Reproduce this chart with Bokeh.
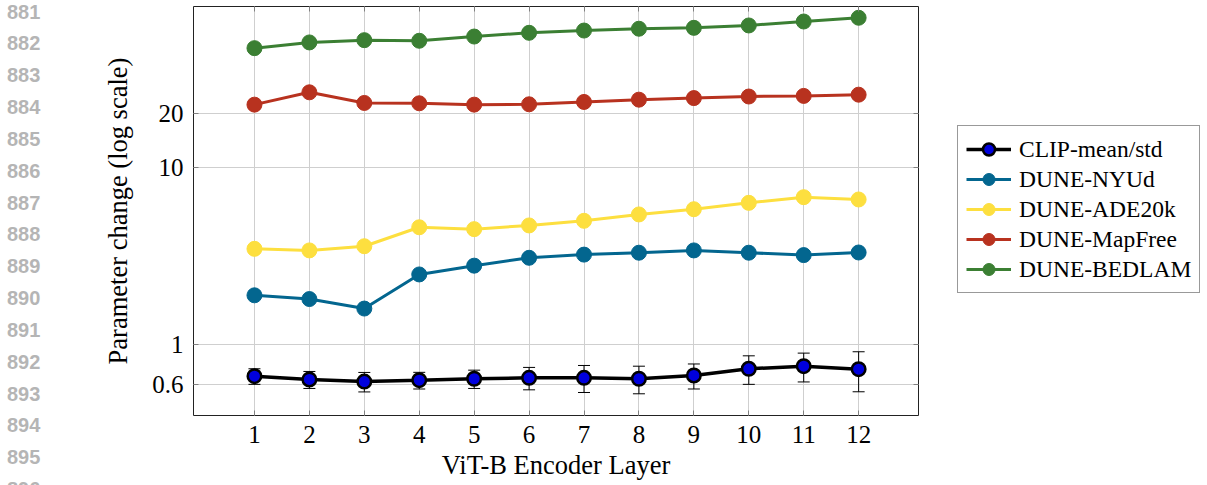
from bokeh.plotting import figure
from bokeh.layouts import row
from bokeh.models import (ColumnDataSource, FixedTicker, Range1d, LinearAxis, LogAxis,
                          Legend, LegendItem, Whisker, TeeHead, Div)
from bokeh.embed import file_html
from bokeh.resources import INLINE

# ---------------- data ----------------
layers = [1, 2, 3, 4, 5, 6, 7, 8, 9, 10, 11, 12]
clip_mean = [0.666, 0.638, 0.621, 0.632, 0.644, 0.652, 0.652, 0.644, 0.672, 0.733, 0.758, 0.729]
clip_std = [0.067, 0.070, 0.078, 0.068, 0.076, 0.094, 0.113, 0.114, 0.108, 0.134, 0.140, 0.185]
dune_nyud = [1.90, 1.81, 1.60, 2.49, 2.79, 3.09, 3.22, 3.30, 3.40, 3.30, 3.20, 3.31]
dune_ade20k = [3.47, 3.40, 3.59, 4.59, 4.48, 4.70, 4.99, 5.42, 5.80, 6.30, 6.78, 6.58]
dune_mapfree = [22.5, 26.4, 23.0, 22.9, 22.5, 22.6, 23.3, 24.0, 24.5, 25.0, 25.2, 25.6]
dune_bedlam = [46.8, 50.4, 51.9, 51.5, 54.4, 57.1, 58.8, 60.2, 60.9, 62.8, 66.1, 69.4]

series_names = ["CLIP-mean/std", "DUNE-NYUd", "DUNE-ADE20k", "DUNE-MapFree", "DUNE-BEDLAM"]
x_tick_values = layers
y_tick_values = [0.6, 1, 10, 20]
y_tick_labels = ["0.6", "1", "10", "20"]
x_axis_title = "ViT-B Encoder Layer"
y_axis_title = "Parameter change (log scale)"
line_numbers = [str(n) for n in range(881, 897)]

# ---------------- styling ----------------
SERIF = "Liberation Serif"
colors = {
    "CLIP-mean/std": "black",
    "DUNE-NYUd": "#03668f",
    "DUNE-ADE20k": "#fddf3f",
    "DUNE-MapFree": "#b8321f",
    "DUNE-BEDLAM": "#3b7f33",
}
CLIP_FILL = "#0000dd"
H = 485
NUM_W = 50
P_W = 871
LEG_W = 1207 - NUM_W - P_W
TOP, BOTTOM = 6, 70

# ---------------- left strip: page line numbers ----------------
nums_html = ("<div style=\"font-family:'Liberation Sans',Arial,sans-serif;font-weight:bold;"
             "font-size:20px;color:#b5b5b5;line-height:31.85px;margin:-3.5px 0 0 0;"
             "padding-left:7px;white-space:nowrap\">" + "<br>".join(line_numbers) + "</div>")
nums = Div(text=nums_html, width=NUM_W, height=H, margin=0,
           styles={"overflow": "hidden"})

# ---------------- main chart ----------------
p = figure(width=P_W, height=H, y_axis_type="log",
           x_range=Range1d(-0.11, 13.09), y_range=Range1d(0.4, 80.3),
           output_backend="svg", toolbar_location=None,
           min_border_left=143, min_border_right=3,
           min_border_top=TOP, min_border_bottom=BOTTOM)
p.background_fill_color = "white"
p.border_fill_color = "white"
p.outline_line_color = "#222222"
p.outline_line_width = 1

p.xgrid.ticker = FixedTicker(ticks=x_tick_values)
p.ygrid.ticker = FixedTicker(ticks=y_tick_values)
for g in (p.xgrid, p.ygrid):
    g.grid_line_color = "#cfcfcf"
    g.grid_line_width = 1

xa = p.xaxis[0]
ya = p.yaxis[0]
xa.ticker = FixedTicker(ticks=x_tick_values)
ya.ticker = FixedTicker(ticks=y_tick_values)
ya.major_label_overrides = {v: s for v, s in zip(y_tick_values, y_tick_labels)}
for ax in (xa, ya):
    ax.axis_line_color = None
    ax.major_tick_in = 5
    ax.major_tick_out = 0
    ax.major_tick_line_color = "#808080"
    ax.minor_tick_line_color = None
    ax.major_label_text_font = SERIF
    ax.major_label_text_font_size = "25px"
    ax.major_label_text_color = "black"
    ax.axis_label_text_font = SERIF
    ax.axis_label_text_font_size = "26.5px"
    ax.axis_label_text_font_style = "normal"
    ax.axis_label_text_color = "black"
xa.axis_label = x_axis_title
ya.axis_label = y_axis_title
xa.major_label_standoff = 10
xa.axis_label_standoff = 4
ya.major_label_standoff = 10
ya.axis_label_standoff = 16

# mirrored inward ticks on top and right (labels not drawn)
top_ax = LinearAxis(ticker=FixedTicker(ticks=x_tick_values))
right_ax = LogAxis(ticker=FixedTicker(ticks=y_tick_values))
for ax in (top_ax, right_ax):
    ax.axis_line_color = None
    ax.major_tick_in = 5
    ax.major_tick_out = 0
    ax.major_tick_line_color = "#808080"
    ax.minor_tick_line_color = None
    ax.major_label_text_font_size = "1px"
    ax.major_label_text_color = None
    ax.major_label_standoff = 0
p.add_layout(top_ax, "above")
p.add_layout(right_ax, "right")

# CLIP with error bars
clip_src = ColumnDataSource(dict(
    x=layers, y=clip_mean,
    upper=[m + s for m, s in zip(clip_mean, clip_std)],
    lower=[m - s for m, s in zip(clip_mean, clip_std)],
))
wh = Whisker(source=clip_src, base="x", upper="upper", lower="lower",
             line_color="black", line_width=1,
             upper_head=TeeHead(size=12, line_color="black", line_width=1),
             lower_head=TeeHead(size=12, line_color="black", line_width=1))
p.add_layout(wh)

other = [("DUNE-NYUd", dune_nyud), ("DUNE-ADE20k", dune_ade20k),
         ("DUNE-MapFree", dune_mapfree), ("DUNE-BEDLAM", dune_bedlam)]
for name, vals in other:
    src = ColumnDataSource(dict(x=layers, y=vals))
    p.line("x", "y", source=src, line_color=colors[name], line_width=3)
    p.scatter("x", "y", source=src, size=15, fill_color=colors[name],
              line_color=colors[name], line_width=1)

p.line("x", "y", source=clip_src, line_color="black", line_width=3.5)
p.scatter("x", "y", source=clip_src, size=13.5, fill_color=CLIP_FILL,
          line_color="black", line_width=2.5)

# ---------------- legend strip (separate figure so it is not clipped) ----------------
leg = figure(width=LEG_W, height=H, x_range=Range1d(0, 1), y_range=Range1d(0, 1),
             output_backend="svg", toolbar_location=None,
             x_axis_location=None, y_axis_location=None,
             min_border_left=0, min_border_right=0,
             min_border_top=TOP, min_border_bottom=BOTTOM)
leg.outline_line_color = None
leg.xgrid.visible = False
leg.ygrid.visible = False
leg.background_fill_color = "white"
leg.border_fill_color = "white"

items = []
for name in series_names:
    # proxy point outside the visible range: only its legend glyph is seen
    proxy = ColumnDataSource(dict(x=[-5, -4], y=[-5, -4]))
    if name == "CLIP-mean/std":
        lr = leg.line("x", "y", source=proxy, line_color="black", line_width=3.5)
        sr = leg.scatter("x", "y", source=proxy, fill_color=CLIP_FILL,
                         line_color="black", line_width=2.5)
    else:
        lr = leg.line("x", "y", source=proxy, line_color=colors[name], line_width=3)
        sr = leg.scatter("x", "y", source=proxy, fill_color=colors[name],
                         line_color=colors[name], line_width=1)
    items.append(LegendItem(label=name, renderers=[lr, sr]))

legend = Legend(items=items, location=(36, 122))
legend.label_text_font = SERIF
legend.label_text_font_size = "23.5px"
legend.label_text_color = "black"
legend.glyph_width = 45
legend.glyph_height = 30
legend.label_height = 30
legend.label_standoff = 8
legend.spacing = 0
legend.padding = 8
legend.margin = 0
legend.border_line_color = "#333333"
legend.border_line_width = 1
legend.background_fill_color = "white"
legend.background_fill_alpha = 1
leg.add_layout(legend)

layout = row(nums, p, leg)
open("out.html", "w").write(file_html(layout, INLINE))
